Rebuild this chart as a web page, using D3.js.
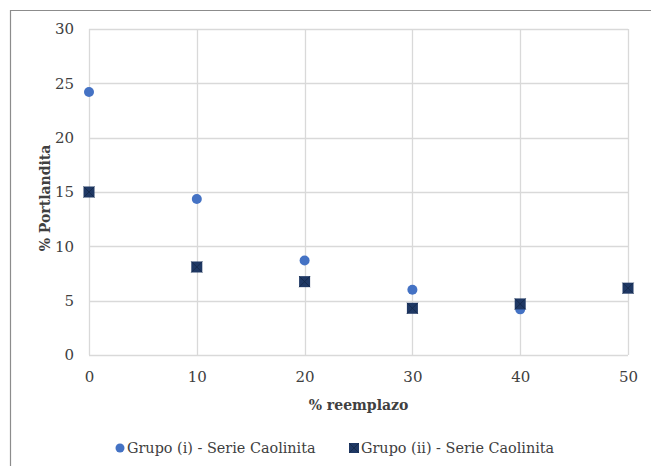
<!DOCTYPE html>
<html><head><meta charset="utf-8">
<script src="https://cdn.jsdelivr.net/npm/d3@7"></script>
<style>body{margin:0;background:#fff}svg{display:block}
svg text{fill:#404040}</style>
</head><body>
<svg id="c" width="651" height="466"></svg>
<script>
const xTicks = [0, 10, 20, 30, 40, 50];
const yTicks = [0, 5, 10, 15, 20, 25, 30];
const xLabel = "% reemplazo";
const yLabel = "% Portlandita";
const seriesNames = ["Grupo (i) - Serie Caolinita", "Grupo (ii) - Serie Caolinita"];
const grupoI_x = [0, 10, 20, 30, 40];
const grupoI_y = [24.2, 14.35, 8.7, 6.0, 4.2];
const grupoII_x = [0, 10, 20, 30, 40, 50];
const grupoII_y = [15.0, 8.1, 6.75, 4.3, 4.7, 6.15];

const FONT = "DejaVu Serif";
const svg = d3.select("#c");
const x = d3.scaleLinear().domain([0, 50]).range([89, 628]);
const y = d3.scaleLinear().domain([0, 30]).range([355, 29]);

svg.append("path").attr("d", "M10.5,466 L10.5,10.5 L651,10.5").attr("fill", "none").attr("stroke", "#8c8c8c").attr("stroke-width", 1.2);

svg.append("g").selectAll("line").data(yTicks).join("line")
  .attr("x1", x(0)).attr("x2", x(50)).attr("y1", d => Math.round(y(d)) + 0.5).attr("y2", d => Math.round(y(d)) + 0.5)
  .attr("stroke", "#d9d9d9").attr("stroke-width", 1.3);
svg.append("g").selectAll("line").data(xTicks).join("line")
  .attr("y1", y(0)).attr("y2", y(30)).attr("x1", d => Math.round(x(d)) + 0.5).attr("x2", d => Math.round(x(d)) + 0.5)
  .attr("stroke", "#d9d9d9").attr("stroke-width", 1.3);

const yAxis = svg.append("g").attr("transform", `translate(${x(0) - 1},0)`)
  .call(d3.axisLeft(y).tickValues(yTicks).tickSize(0).tickPadding(14));
const xAxis = svg.append("g").attr("transform", `translate(0,${y(0)})`)
  .call(d3.axisBottom(x).tickValues(xTicks).tickSize(0).tickPadding(16));
[yAxis, xAxis].forEach(a => {
  a.attr("font-family", FONT).attr("font-size", 15);
  a.select(".domain").remove();
  a.selectAll("text").attr("fill", "#404040");
});

svg.append("text").attr("x", (x(0) + x(50)) / 2).attr("y", 410).attr("text-anchor", "middle")
  .attr("font-family", FONT).attr("font-size", 14).attr("font-weight", "bold").text(xLabel);
svg.append("text").attr("transform", `translate(50,${(y(0) + y(30)) / 2 + 6}) rotate(-90)`).attr("text-anchor", "middle")
  .attr("font-family", FONT).attr("font-size", 14).attr("font-weight", "bold").text(yLabel);

const circ = "#4472c4", sq = "#1f3864";
function square(g, cx, cy, s) {
  g.append("rect").attr("x", cx - s / 2).attr("y", cy - s / 2).attr("width", s).attr("height", s).attr("fill", sq);
  g.append("path").attr("d", `M${cx - s / 2},${cy - s / 2}L${cx + s / 2},${cy + s / 2}M${cx + s / 2},${cy - s / 2}L${cx - s / 2},${cy + s / 2}`)
    .attr("stroke", "#142847").attr("stroke-width", 0.8);
}
const gI = svg.append("g");
grupoI_x.forEach((d, i) => gI.append("circle").attr("cx", x(d)).attr("cy", y(grupoI_y[i])).attr("r", 5).attr("fill", circ));
const gII = svg.append("g");
grupoII_x.forEach((d, i) => square(gII, x(d), y(grupoII_y[i]), 11));

const lg = svg.append("g").attr("font-family", FONT).attr("font-size", 14.4);
lg.append("circle").attr("cx", 120).attr("cy", 448).attr("r", 4.5).attr("fill", circ);
lg.append("text").attr("x", 127).attr("y", 453).text(seriesNames[0]);
square(lg, 354, 448, 10);
lg.append("text").attr("x", 361).attr("y", 453).text(seriesNames[1]);
</script>
</body></html>
